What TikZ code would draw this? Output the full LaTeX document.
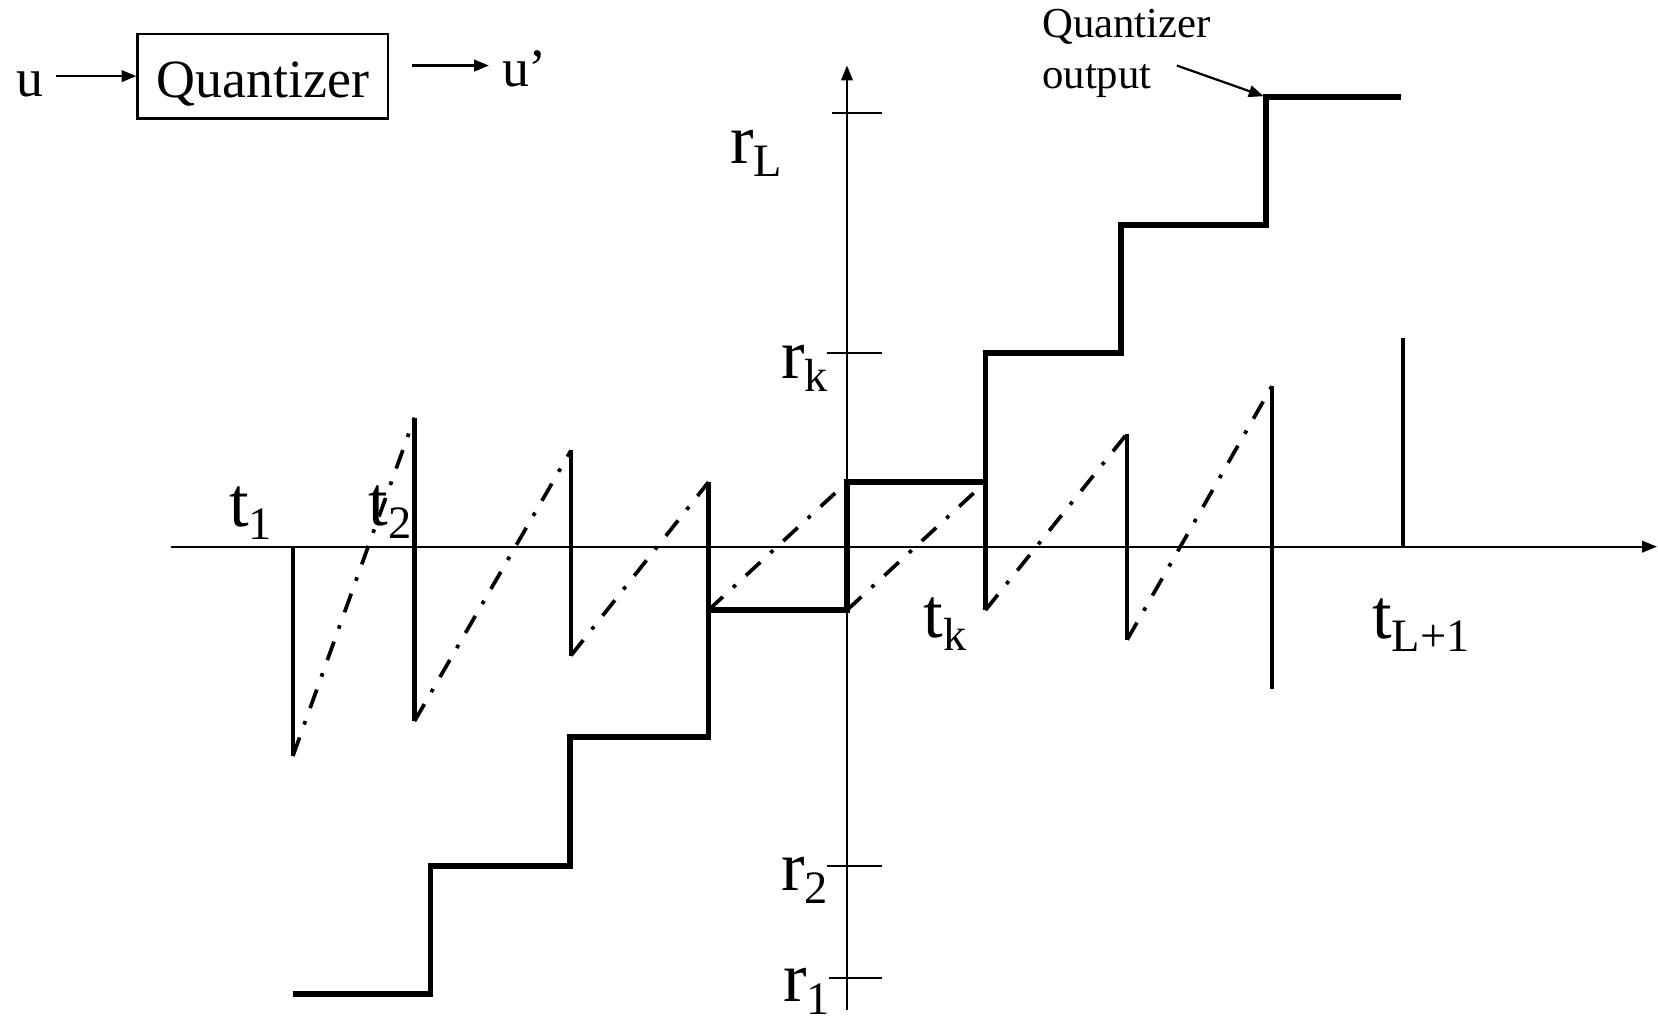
\documentclass[tikz,border=0pt]{standalone}
\usepackage{fontspec}
\setmainfont{Liberation Serif}
\usetikzlibrary{arrows.meta}
\newcommand{\lsub}[1]{\raisebox{-3.5pt}{\fontsize{12.5}{14}\selectfont #1}}
\tikzset{
  axis/.style  = {line width=0.45pt, -{Triangle[length=1.4mm,width=1.1mm]}},
  rtick/.style = {line width=0.45pt},
  stair/.style = {line width=1.5pt},
  saw/.style   = {line width=1.1pt},
  ramp/.style  = {line width=1pt, dash pattern=on 5.3pt off 3.7pt on 1pt off 3.7pt},
  lbl/.style   = {font=\fontsize{19}{22}\selectfont, inner sep=0pt, anchor=base west},
  sig/.style   = {line width=0.6pt, -{Triangle[length=1.4mm,width=1.1mm]}},
  blk/.style   = {draw, line width=0.6pt, minimum width=2.37cm, minimum height=0.8cm,
                  text height=0.45cm, text depth=0.05cm}
}

\begin{document}
\begin{tikzpicture}[font=\fontsize{14.5}{17}\selectfont]
\useasboundingbox (-8.01,-4.48) rectangle (7.67,5.17);
% block at top left
\node[blk] (quant) at (-5.525,4.45) {Quantizer};
\node[anchor=base] (uin) at (-7.73,4.26) {u};
\node[anchor=base] (uout) at (-3.05,4.35) {u'};
\draw[sig] (uin.east |- quant.west) -- (quant.west);
\coordinate (qo) at (-4.11,4.55);
\draw[sig] (qo) -- (qo -| uout.west);

% axes
\draw[axis] (-6.39,0) -- (7.66,0);
\draw[axis] (0,-4.38) -- (0,4.55);
\draw[rtick] (-0.14,4.10) -- (0.33,4.10);
\draw[rtick] (-0.19,1.83) -- (0.33,1.83);
\draw[rtick] (-0.19,-3.02) -- (0.33,-3.02);
\draw[rtick] (-0.17,-4.08) -- (0.33,-4.08);
\node[lbl] (rL) at (-1.11,3.62) {r\lsub{L}};
\node[lbl] (rk) at (-0.63,1.59) {r\lsub{k}};
\node[lbl] (r2) at (-0.63,-3.25) {r\lsub{2}};
\node[lbl] (r1) at (-0.61,-4.30) {r\lsub{1}};
\node[lbl] (t1) at (-5.85,0.19) {t\lsub{1}};
\node[lbl] (t2) at (-4.53,0.20) {t\lsub{2}};
\node[lbl] (tk) at (0.72,-0.86) {t\lsub{k}};
\node[lbl] (tL) at (4.96,-0.87) {t\lsub{L+1}};

% quantizer output (staircase)
\draw[stair] (-5.24,-4.23) -- (-3.94,-4.23) -- (-3.94,-3.02) -- (-2.62,-3.02)
  -- (-2.62,-1.80) -- (-1.31,-1.80) -- (-1.31,-0.60) -- (0,-0.60) -- (0,0.61)
  -- (1.31,0.61) -- (1.31,1.83) -- (2.59,1.83) -- (2.59,3.04) -- (3.96,3.04)
  -- (3.96,4.25) -- (5.24,4.25);

% error sawtooth
\draw[saw] (-5.24,0) -- (-5.24,-1.98);
\draw[ramp] (-5.24,-1.98) -- (-4.09,1.22);
\draw[saw] (-4.09,1.22) -- (-4.09,-1.65);
\draw[ramp] (-4.09,-1.65) -- (-2.61,0.91);
\draw[saw] (-2.61,0.91) -- (-2.61,-1.03);
\draw[ramp] (-2.61,-1.03) -- (-1.31,0.61);
\draw[saw] (-1.31,0.61) -- (-1.31,-0.60);
\draw[ramp] (-1.31,-0.60) -- (0,0.61);
\draw[ramp] (0,-0.60) -- (1.31,0.61);
\draw[saw] (1.31,0.61) -- (1.31,-0.60);
\draw[ramp] (1.31,-0.60) -- (2.65,1.07);
\draw[saw] (2.65,1.07) -- (2.65,-0.88);
\draw[ramp] (2.65,-0.88) -- (4.02,1.52);
\draw[saw] (4.02,1.52) -- (4.02,-1.35);
\draw[saw] (5.26,1.97) -- (5.26,0);

% label with pointer
\node[font=\fontsize{11.5}{13.6}\selectfont, align=left, inner sep=0pt, anchor=north west]
  (qlbl) at (1.84,5.09) {Quantizer\\output};
\coordinate (qarr) at (3.12,4.55);
\coordinate (qtop) at (3.94,4.26);
\draw[sig] (qarr) -- (qtop);
\end{tikzpicture}
\end{document}
